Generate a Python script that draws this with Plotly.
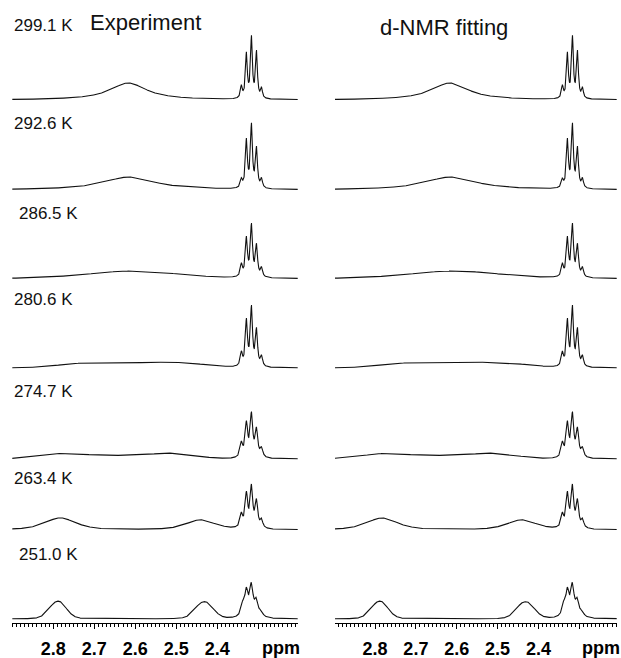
import numpy as np
import plotly.graph_objects as go

W, H = 621, 658

temps = ["299.1 K", "292.6 K", "286.5 K", "280.6 K", "274.7 K", "263.4 K", "251.0 K"]
panel_titles = ["Experiment", "d-NMR fitting"]
tick_vals = [2.8, 2.7, 2.6, 2.5, 2.4, 2.3]
tick_text = ["2.8", "2.7", "2.6", "2.5", "2.4", ""]

# narrow multiplet near 2.32 ppm (positions ppm, heights a.u., half widths ppm)
narrow_ppm = [
    [2.3414, 2.3291, 2.3168, 2.3045, 2.2922],
    [2.3414, 2.3291, 2.3168, 2.3045, 2.2922],
    [2.3414, 2.3291, 2.3168, 2.3045, 2.2922],
    [2.3414, 2.3291, 2.3168, 2.3045, 2.2922],
    [2.3414, 2.3291, 2.3168, 2.3045, 2.2922],
    [2.3414, 2.3291, 2.3168, 2.3045, 2.2922],
    [2.338, 2.329, 2.317, 2.305, 2.293],
]
narrow_h = [
    [12, 44, 60, 46, 10],
    [8, 47, 62, 39, 9],
    [12, 38, 51, 31, 9],
    [13, 45, 58, 36, 10],
    [14, 33, 42, 27, 9],
    [13, 33, 40, 26, 8],
    [11, 24, 30, 15, 5],
]
narrow_hw = [0.0026, 0.0028, 0.003, 0.003, 0.0037, 0.0037, 0.005]

# exchange-broadened signal (positions ppm, heights a.u., half widths ppm)
broad_ppm = [
    [2.617],
    [2.615],
    [2.605],
    [2.72, 2.60, 2.49],
    [2.775, 2.64, 2.51],
    [2.783, 2.441],
    [2.800, 2.781, 2.443, 2.422],
]
broad_h = [
    [17],
    [13],
    [8],
    [4.5, 3, 4.5],
    [5.5, 3, 5.5],
    [12, 10],
    [9, 12, 10, 11],
]
broad_hw = [
    [0.055],
    [0.077],
    [0.135],
    [0.082, 0.082, 0.082],
    [0.065, 0.07, 0.065],
    [0.045, 0.042],
    [0.02, 0.02, 0.02, 0.02],
]
broad_eta = [1.0, 1.0, 0.5, 0.0, 0.0, 0.6, 0.25]  # Lorentzian fraction

baselines_px = [100, 190, 279, 368, 459, 530, 619]
label_pos = [(12, 25), (12, 123), (17, 213), (12, 299), (12, 391), (12, 479), (17, 554)]

ppm = np.linspace(2.19, 2.91, 5000)


def lor(x, p, h, w):
    return h / (1 + ((x - p) / w) ** 2)


def gau(x, p, h, w):
    return h * np.exp(-np.log(2) * ((x - p) / w) ** 2)


def spectrum(r):
    y = np.zeros_like(ppm)
    for p, h in zip(narrow_ppm[r], narrow_h[r]):
        y += lor(ppm, p, h, narrow_hw[r])
    e = broad_eta[r]
    for p, h, w in zip(broad_ppm[r], broad_h[r], broad_hw[r]):
        y += e * lor(ppm, p, h, w) + (1 - e) * gau(ppm, p, h, w)
    return y


cols = [
    dict(x0=12.3, x1=297.7, rng=[2.9, 2.204]),
    dict(x0=335.0, x1=616.7, rng=[2.898, 2.2085]),
]

minor_vals = [round(v, 2) for v in np.arange(2.20, 2.905, 0.01)
              if all(abs(v - t) > 1e-6 for t in tick_vals)]

fig = go.Figure()
layout = {}
n = 0
for c, col in enumerate(cols):
    for r in range(7):
        n += 1
        xa = "x" if n == 1 else f"x{n}"
        ya = "y" if n == 1 else f"y{n}"
        xk = "xaxis" if n == 1 else f"xaxis{n}"
        yk = "yaxis" if n == 1 else f"yaxis{n}"
        fig.add_trace(go.Scatter(
            x=ppm, y=spectrum(r), xaxis=xa, yaxis=ya, mode="lines",
            line=dict(color="#111111", width=1.1), hoverinfo="skip", showlegend=False))
        bottom = baselines_px[r] + 4
        top = baselines_px[r] - 72
        xdict = dict(domain=[col["x0"] / W, col["x1"] / W], range=col["rng"], anchor=ya,
                     showgrid=False, zeroline=False, fixedrange=True)
        if r == 6:
            xdict.update(
                visible=True, showline=True, linecolor="black", linewidth=1,
                ticks="outside", ticklen=5, tickwidth=1, tickcolor="black",
                tickmode="array", tickvals=tick_vals,
                ticktext=[f"<b>{t}</b>" if t else "" for t in tick_text],
                tickfont=dict(family="Liberation Sans, Arial, sans-serif", size=18, color="black"),
                ticklabelstandoff=4,
                minor=dict(tickmode="array", tickvals=minor_vals, ticks="outside",
                           ticklen=3, tickwidth=0.8, tickcolor="black", showgrid=False),
            )
        else:
            xdict.update(visible=False)
        layout[xk] = xdict
        layout[yk] = dict(domain=[1 - bottom / H, 1 - top / H], range=[-4, 72], anchor=xa,
                          visible=False, fixedrange=True)

ann = []
font_lbl = dict(family="Liberation Sans, Arial, sans-serif", size=17, color="#111111")
for t, (lx, ly) in zip(temps, label_pos):
    ann.append(dict(x=lx / W, y=1 - ly / H, xref="paper", yref="paper", text=t,
                    showarrow=False, xanchor="left", yanchor="middle", font=font_lbl))
title_font = dict(family="Liberation Sans, Arial, sans-serif", size=22, color="#111111")
ann.append(dict(x=88 / W, y=1 - 23 / H, xref="paper", yref="paper", text=panel_titles[0],
                showarrow=False, xanchor="left", yanchor="middle", font=title_font))
ann.append(dict(x=378 / W, y=1 - 27 / H, xref="paper", yref="paper", text=panel_titles[1],
                showarrow=False, xanchor="left", yanchor="middle", font=title_font))
for cx in [281, 601]:
    ann.append(dict(x=cx / W, y=1 - 648 / H, xref="paper", yref="paper", text="<b>ppm</b>",
                    showarrow=False, xanchor="center", yanchor="middle",
                    font=dict(family="Liberation Sans, Arial, sans-serif", size=18, color="black")))

fig.update_layout(
    width=W, height=H, margin=dict(l=0, r=0, t=0, b=0),
    paper_bgcolor="white", plot_bgcolor="rgba(0,0,0,0)",
    annotations=ann, showlegend=False, **layout)

fig.write_html("out.html", config={"displayModeBar": False})
